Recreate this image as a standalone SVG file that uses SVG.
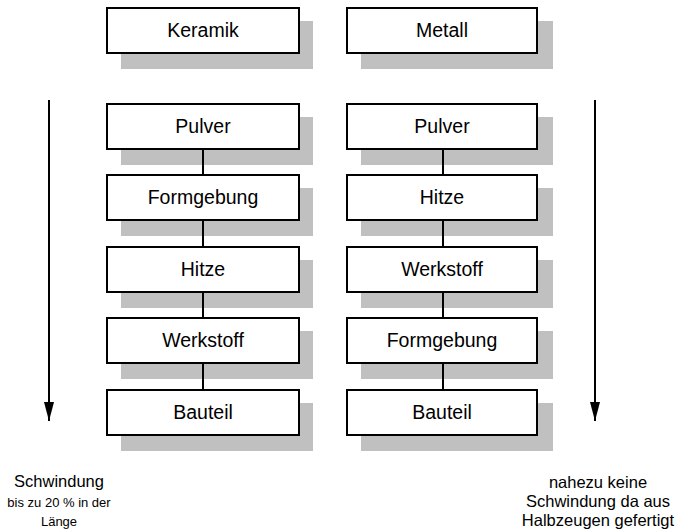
<svg xmlns="http://www.w3.org/2000/svg" width="680" height="529" viewBox="0 0 680 529">
  <defs>
    <style>
      .shadow { fill: #c0c0c0; }
      .box { fill: #ffffff; stroke: #000000; stroke-width: 2; }
      .label { font-family: "Liberation Sans", Arial, sans-serif; font-size: 19.5px; fill: #000000; text-anchor: middle; }
      .note { font-family: "Liberation Sans", Arial, sans-serif; fill: #000000; text-anchor: middle; }
      .link { stroke: #000000; stroke-width: 2; fill: none; }
      .flow { stroke: #000000; stroke-width: 2; fill: none; }
    </style>
    <!-- filled arrowhead, drawn along +x so orient="auto" follows the line -->
    <marker id="head" markerUnits="userSpaceOnUse" markerWidth="20" markerHeight="10" refX="19" refY="5" orient="auto" viewBox="0 0 20 10">
      <path d="M0,0 L19,5 L0,10 Z" fill="#000000"/>
    </marker>
  </defs>

  <!-- left column: ceramic process -->
  <g id="keramik">
    <rect class="shadow" x="121" y="21" width="192" height="48"/>
    <rect class="box" x="107" y="8" width="192" height="45"/>
    <text class="label" x="203" y="37">Keramik</text>
  </g>
  <g id="k-pulver">
    <rect class="shadow" x="121" y="117" width="192" height="48"/>
    <rect class="box" x="107" y="104" width="192" height="45"/>
    <text class="label" x="203" y="133">Pulver</text>
  </g>
  <g id="k-formgebung">
    <rect class="shadow" x="121" y="188" width="192" height="48"/>
    <rect class="box" x="107" y="175" width="192" height="45"/>
    <text class="label" x="203" y="204">Formgebung</text>
  </g>
  <g id="k-hitze">
    <rect class="shadow" x="121" y="260" width="192" height="48"/>
    <rect class="box" x="107" y="247" width="192" height="45"/>
    <text class="label" x="203" y="276">Hitze</text>
  </g>
  <g id="k-werkstoff">
    <rect class="shadow" x="121" y="331" width="192" height="48"/>
    <rect class="box" x="107" y="318" width="192" height="45"/>
    <text class="label" x="203" y="347">Werkstoff</text>
  </g>
  <g id="k-bauteil">
    <rect class="shadow" x="121" y="403" width="192" height="48"/>
    <rect class="box" x="107" y="390" width="192" height="45"/>
    <text class="label" x="203" y="419">Bauteil</text>
  </g>

  <!-- right column: metal process -->
  <g id="metall">
    <rect class="shadow" x="361" y="21" width="192" height="48"/>
    <rect class="box" x="347" y="8" width="190" height="45"/>
    <text class="label" x="442" y="37">Metall</text>
  </g>
  <g id="m-pulver">
    <rect class="shadow" x="361" y="117" width="192" height="48"/>
    <rect class="box" x="347" y="104" width="190" height="45"/>
    <text class="label" x="442" y="133">Pulver</text>
  </g>
  <g id="m-hitze">
    <rect class="shadow" x="361" y="188" width="192" height="48"/>
    <rect class="box" x="347" y="175" width="190" height="45"/>
    <text class="label" x="442" y="204">Hitze</text>
  </g>
  <g id="m-werkstoff">
    <rect class="shadow" x="361" y="260" width="192" height="48"/>
    <rect class="box" x="347" y="247" width="190" height="45"/>
    <text class="label" x="442" y="276">Werkstoff</text>
  </g>
  <g id="m-formgebung">
    <rect class="shadow" x="361" y="331" width="192" height="48"/>
    <rect class="box" x="347" y="318" width="190" height="45"/>
    <text class="label" x="442" y="347">Formgebung</text>
  </g>
  <g id="m-bauteil">
    <rect class="shadow" x="361" y="403" width="192" height="48"/>
    <rect class="box" x="347" y="390" width="190" height="45"/>
    <text class="label" x="442" y="419">Bauteil</text>
  </g>

  <!-- connectors between process steps and the direction arrows -->
  <g id="connectors">
    <line class="link" x1="203" y1="150" x2="203" y2="174"/>
    <line class="link" x1="203" y1="221" x2="203" y2="246"/>
    <line class="link" x1="203" y1="293" x2="203" y2="317"/>
    <line class="link" x1="203" y1="364" x2="203" y2="389"/>
    <line class="link" x1="443" y1="150" x2="443" y2="174"/>
    <line class="link" x1="443" y1="221" x2="443" y2="246"/>
    <line class="link" x1="443" y1="293" x2="443" y2="317"/>
    <line class="link" x1="443" y1="364" x2="443" y2="389"/>
    <line class="flow" x1="49" y1="100" x2="49" y2="421" marker-end="url(#head)"/>
    <line class="flow" x1="595" y1="100" x2="595" y2="421" marker-end="url(#head)"/>
  </g>

  <!-- captions under the arrows -->
  <g id="caption-left">
    <text class="note" x="59" y="487" font-size="16.5">Schwindung</text>
    <text class="note" x="59" y="507" font-size="13">bis zu 20 % in der</text>
    <text class="note" x="59" y="526" font-size="13">Länge</text>
  </g>
  <g id="caption-right">
    <text class="note" x="598" y="488" font-size="16.5">nahezu keine</text>
    <text class="note" x="598" y="507" font-size="16.5">Schwindung da aus</text>
    <text class="note" x="598" y="526" font-size="16.5">Halbzeugen gefertigt</text>
  </g>
</svg>
